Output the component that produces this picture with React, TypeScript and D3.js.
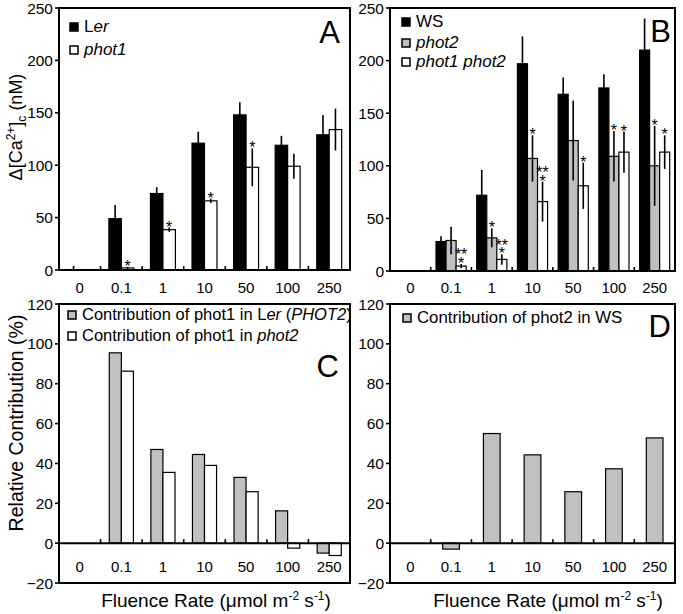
import React from "react";
import * as d3 from "d3";

const categories = ["0", "0.1", "1", "10", "50", "100", "250"];

// Panel A
const lerValues = [0, 49, 73, 121, 148, 119, 129];
const lerErr = [4, 13, 6, 11, 12, 9, 19];
const phot1Values = [0, 2, 38.5, 66, 98, 99, 134];
const phot1Err = [0, 1, 2, 2, 18, 12, 20];
const phot1Stars = ["", "*", "*", "*", "*", "", ""];

// Panel B
const wsValues = [0, 28, 72, 197, 168, 174, 210];
const wsErr = [0, 5, 24, 26, 16, 13, 30];
const phot2Values = [0, 29, 31.5, 107, 124, 109, 100];
const phot2Err = [0, 13, 9, 22, 38, 24, 38];
const phot2Stars = ["", "", "*", "*", "", "*", "*"];
const dblValues = [0, 4.7, 11, 66, 81, 113, 113];
const dblErr = [0, 2, 5, 19, 22, 19.5, 16];
const dblStars = ["", "**|*", "**|*", "**|*", "*", "*", "*"];

// Panel C
const contribLer = [0, 95.5, 47, 44.5, 33, 16.2, -5];
const contribPhot2 = [0, 86.3, 35.5, 39, 25.8, -2.5, -6.2];

// Panel D
const contribWs = [0, -3, 55, 44.3, 25.8, 37.3, 52.8];

const ticksAB = [0, 50, 100, 150, 200, 250];
const ticksCD = [-20, 0, 20, 40, 60, 80, 100, 120];

const FONT = "'Liberation Sans', Arial, Helvetica, sans-serif";
const GRAY = "#c0c0c0";

type Series = {
  key: string;
  values: number[];
  err?: number[];
  stars?: string[];
  fill: string;
};

type PanelProps = {
  left: number;
  right: number;
  top: number;
  zeroY: number;
  bottom?: number;
  domain: [number, number];
  ticks: number[];
  series: Series[];
  groupFrac: number;
  labelY: number;
  letter: string;
  letterX: number;
  letterY: number;
};

function Panel(p: PanelProps) {
  const yBottom = p.bottom ?? p.zeroY;
  const y = d3.scaleLinear().domain(p.domain).range([yBottom, p.top]);
  const x = d3.scaleBand<string>().domain(categories).range([p.left, p.right]);
  const bw = x.bandwidth();
  const gw = bw * p.groupFrac;
  const inner = d3
    .scaleBand<string>()
    .domain(p.series.map((s) => s.key))
    .range([0, gw]);
  const zy = y(0);
  const cxOf = (s: Series, i: number) =>
    (x(categories[i]) as number) + (bw - gw) / 2 + (inner(s.key) as number) + inner.bandwidth() / 2;
  return (
    <g>
      {p.series.map((s) =>
        s.values.map((v, i) => {
          if (v === 0) return null;
          const w = inner.bandwidth();
          const bx = cxOf(s, i) - w / 2;
          const y0 = Math.min(y(v), zy);
          const h = Math.abs(y(v) - zy);
          return (
            <rect
              key={s.key + i}
              x={bx}
              y={y0}
              width={w}
              height={h}
              fill={s.fill}
              stroke="#000"
              strokeWidth={1.2}
            />
          );
        })
      )}
      {p.series.map((s) =>
        s.err
          ? s.values.map((v, i) => {
              const e = s.err![i];
              if (!e) return null;
              const cx = cxOf(s, i);
              return (
                <line
                  key={"e" + s.key + i}
                  x1={cx}
                  x2={cx}
                  y1={y(Math.max(0, v - e))}
                  y2={y(v + e)}
                  stroke="#000"
                  strokeWidth={1.6}
                />
              );
            })
          : null
      )}
      {p.series.map((s) =>
        s.stars
          ? s.stars.map((st, i) => {
              if (!st) return null;
              const cx = cxOf(s, i);
              const topV = s.values[i] + (s.err ? s.err[i] : 0);
              const base = y(topV) + 5;
              const lines = st.split("|");
              const n = lines.length;
              return (
                <text
                  key={"s" + s.key + i}
                  x={cx}
                  y={base - (n - 1) * 8.5}
                  textAnchor="middle"
                  fontSize={16}
                  fontFamily={FONT}
                  fill="#000"
                >
                  {lines.map((ln, j) => (
                    <tspan key={j} x={cx} dy={j === 0 ? 0 : 8.5}>
                      {ln}
                    </tspan>
                  ))}
                </text>
              );
            })
          : null
      )}
      <rect
        x={p.left}
        y={p.top}
        width={p.right - p.left}
        height={yBottom - p.top}
        fill="none"
        stroke="#000"
        strokeWidth={2}
      />
      <line x1={p.left} x2={p.right} y1={zy} y2={zy} stroke="#000" strokeWidth={2} />
      {categories.slice(1).map((c) => (
        <line
          key={"xt" + c}
          x1={x(c) as number}
          x2={x(c) as number}
          y1={zy}
          y2={zy - 4}
          stroke="#000"
          strokeWidth={1.6}
        />
      ))}
      {categories.map((c) => (
        <text
          key={"xl" + c}
          x={(x(c) as number) + bw / 2}
          y={p.labelY}
          textAnchor="middle"
          fontSize={15}
          fontFamily={FONT}
        >
          {c}
        </text>
      ))}
      {p.ticks.map((t) => (
        <g key={"yt" + t}>
          <line x1={p.left - 4} x2={p.left} y1={y(t)} y2={y(t)} stroke="#000" strokeWidth={1.6} />
          <text x={p.left - 6} y={y(t) + 5.5} textAnchor="end" fontSize={15.5} fontFamily={FONT}>
            {t < 0 ? "\u2212" + Math.abs(t) : String(t)}
          </text>
        </g>
      ))}
      <text x={p.letterX} y={p.letterY} textAnchor="end" fontSize={31} fontFamily={FONT}>
        {p.letter}
      </text>
    </g>
  );
}

function LegendItem(props: {
  x: number;
  y: number;
  fill: string;
  fontSize: number;
  children: React.ReactNode;
}) {
  return (
    <g>
      <rect
        x={props.x}
        y={props.y - 9}
        width={8}
        height={8}
        fill={props.fill}
        stroke="#000"
        strokeWidth={1.5}
      />
      <text x={props.x + 14} y={props.y} fontSize={props.fontSize} fontFamily={FONT}>
        {props.children}
      </text>
    </g>
  );
}

function XTitle({ cx }: { cx: number }) {
  return (
    <text x={cx} y={607} textAnchor="middle" fontSize={19} fontFamily={FONT}>
      Fluence Rate (μmol m
      <tspan fontSize={12} dy={-7}>
        -2
      </tspan>
      <tspan dy={7}> s</tspan>
      <tspan fontSize={12} dy={-7}>
        -1
      </tspan>
      <tspan dy={7}>)</tspan>
    </text>
  );
}

export default function App() {
  return (
    <svg width={683} height={614} style={{ display: "block", position: "absolute", left: 0, top: 0 }}>
      <rect x={0} y={0} width={683} height={614} fill="#fff" />
      <Panel
        left={59}
        right={350}
        top={8}
        zeroY={270}
        domain={[0, 250]}
        ticks={ticksAB}
        groupFrac={0.6}
        labelY={292.5}
        letter="A"
        letterX={340}
        letterY={43}
        series={[
          { key: "ler", values: lerValues, err: lerErr, fill: "#000" },
          { key: "phot1", values: phot1Values, err: phot1Err, stars: phot1Stars, fill: "#fff" },
        ]}
      />
      <Panel
        left={390}
        right={675}
        top={8}
        zeroY={271}
        domain={[0, 250]}
        ticks={ticksAB}
        groupFrac={0.74}
        labelY={292.5}
        letter="B"
        letterX={671}
        letterY={42}
        series={[
          { key: "ws", values: wsValues, err: wsErr, fill: "#000" },
          { key: "phot2", values: phot2Values, err: phot2Err, stars: phot2Stars, fill: GRAY },
          { key: "dbl", values: dblValues, err: dblErr, stars: dblStars, fill: "#fff" },
        ]}
      />
      <Panel
        left={59}
        right={350}
        top={304}
        zeroY={543}
        bottom={583}
        domain={[-20, 120]}
        ticks={ticksCD}
        groupFrac={0.58}
        labelY={572}
        letter="C"
        letterX={339}
        letterY={377}
        series={[
          { key: "ler", values: contribLer, fill: GRAY },
          { key: "phot2", values: contribPhot2, fill: "#fff" },
        ]}
      />
      <Panel
        left={390}
        right={675}
        top={304}
        zeroY={543}
        bottom={583}
        domain={[-20, 120]}
        ticks={ticksCD}
        groupFrac={0.41}
        labelY={572}
        letter="D"
        letterX={671}
        letterY={337}
        series={[{ key: "ws", values: contribWs, fill: GRAY }]}
      />

      <LegendItem x={70} y={32} fill="#000" fontSize={17}>
        L<tspan fontStyle="italic">er</tspan>
      </LegendItem>
      <LegendItem x={70} y={55} fill="#fff" fontSize={17}>
        <tspan fontStyle="italic">phot1</tspan>
      </LegendItem>
      <LegendItem x={402} y={27} fill="#000" fontSize={17}>
        WS
      </LegendItem>
      <LegendItem x={402} y={48} fill={GRAY} fontSize={17}>
        <tspan fontStyle="italic">phot2</tspan>
      </LegendItem>
      <LegendItem x={402} y={67} fill="#fff" fontSize={17}>
        <tspan fontStyle="italic">phot1 phot2</tspan>
      </LegendItem>
      <LegendItem x={68} y={320} fill={GRAY} fontSize={16.5}>
        Contribution of phot1 in L<tspan fontStyle="italic">er</tspan> (
        <tspan fontStyle="italic">PHOT2</tspan>)
      </LegendItem>
      <LegendItem x={68} y={341} fill="#fff" fontSize={16.5}>
        Contribution of phot1 in <tspan fontStyle="italic">phot2</tspan>
      </LegendItem>
      <LegendItem x={403} y={323} fill={GRAY} fontSize={16.8}>
        Contribution of phot2 in WS
      </LegendItem>

      <text transform="translate(22,127) rotate(-90)" textAnchor="middle" fontSize={18} fontFamily={FONT}>
        Δ[Ca
        <tspan fontSize={12} dy={-7}>
          2+
        </tspan>
        <tspan dy={7}>]</tspan>
        <tspan fontSize={12} dy={4}>
          c
        </tspan>
        <tspan dy={-4}> (nM)</tspan>
      </text>
      <text transform="translate(23,423) rotate(-90)" textAnchor="middle" fontSize={19.5} fontFamily={FONT}>
        Relative Contribution (%)
      </text>

      <XTitle cx={216} />
      <XTitle cx={548} />
    </svg>
  );
}
